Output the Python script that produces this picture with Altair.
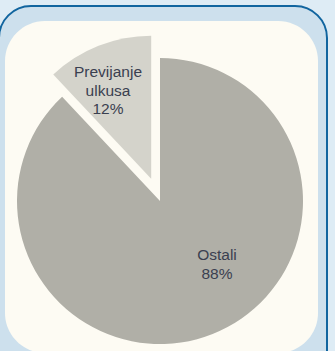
import math
import altair as alt
import pandas as pd

# Slice data
categories = ["Ostali", "Previjanje ulkusa"]
shares = [88, 12]
slice_colors = ["#b0afa7", "#d4d3cb"]

df = pd.DataFrame({
    "category": categories,
    "share": shares,
    "order": list(range(len(categories))),
    "label": [c.split(" ") + [f"{v}%"] for c, v in zip(categories, shares)],
})

W, H = 335, 351
CX, CY, R = 160, 201, 143
EXPLODE = 24  # pull-out distance of the small slice

# direction of the exploded slice (mid angle, clockwise from 12 o'clock)
total = sum(shares)
mid = (total - shares[1] / 2) / total * 2 * math.pi
ex_dx = EXPLODE * math.sin(mid)
ex_dy = -EXPLODE * math.cos(mid)

# Panel frame: blue rounded border + cream card
frame = pd.DataFrame({"k": [0]})
border = alt.Chart(frame).mark_rect(
    cornerRadius=32, fill="#cde0ed", stroke="#11659f", strokeWidth=2
).encode(
    x=alt.value(-1), x2=alt.value(327), y=alt.value(6), y2=alt.value(400)
)
card = alt.Chart(frame).mark_rect(cornerRadius=40, fill="#fdfbf3").encode(
    x=alt.value(5), x2=alt.value(318), y=alt.value(21), y2=alt.value(353)
)

base = alt.Chart(df).transform_joinaggregate(
    total="sum(share)"
).transform_window(
    cum="sum(share)", sort=[alt.SortField("order")]
).transform_calculate(
    t0="(datum.cum - datum.share) / datum.total * 2 * PI",
    t1="datum.cum / datum.total * 2 * PI",
)

color = alt.Color(
    "category:N",
    scale=alt.Scale(domain=categories, range=slice_colors),
    legend=None,
)

main_arc = base.transform_filter(
    alt.datum.category == categories[0]
).mark_arc(radius=R).encode(
    theta=alt.Theta("t0:Q", scale=None),
    theta2="t1:Q",
    color=color,
    x=alt.value(CX),
    y=alt.value(CY),
)

pulled_arc = base.transform_filter(
    alt.datum.category == categories[1]
).mark_arc(radius=R).encode(
    theta=alt.Theta("t0:Q", scale=None),
    theta2="t1:Q",
    color=color,
    x=alt.value(CX + ex_dx),
    y=alt.value(CY + ex_dy),
)

text_style = dict(
    font="Liberation Sans", fontSize=15.5, color="#3a4050",
    align="center", baseline="middle", lineHeight=18.5,
)

# y is the centre of the first line of each label
label_main = alt.Chart(df).transform_filter(
    alt.datum.category == categories[0]
).mark_text(**text_style).encode(
    text="label", x=alt.value(217), y=alt.value(255)
)

label_pulled = alt.Chart(df).transform_filter(
    alt.datum.category == categories[1]
).mark_text(**text_style).encode(
    text="label", x=alt.value(108), y=alt.value(72)
)

chart = alt.layer(
    border, card, main_arc, pulled_arc, label_main, label_pulled
).properties(
    width=W, height=H, padding=0, autosize=alt.AutoSizeParams(type="none"),
    background="#deecf5",
).configure_view(stroke=None)

chart.save("out.html", embed_options={"renderer": "svg", "actions": False})
